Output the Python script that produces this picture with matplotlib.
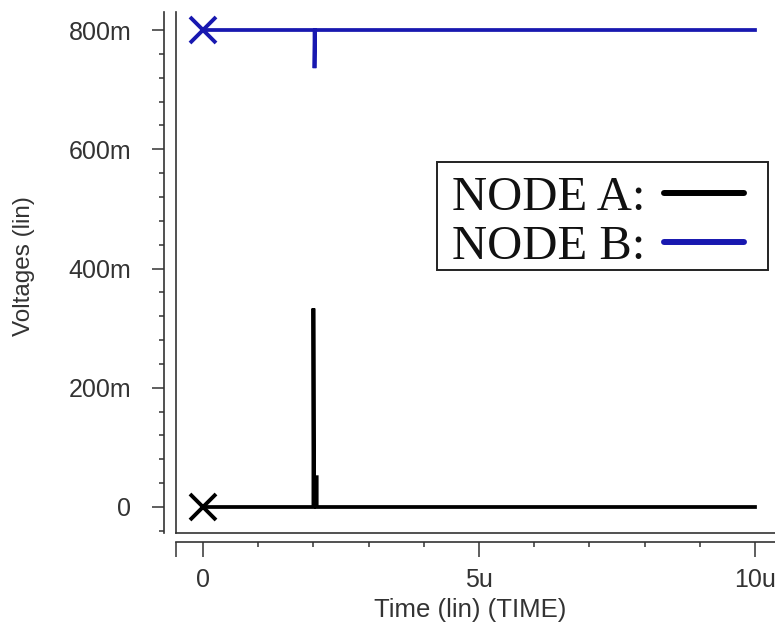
import matplotlib
matplotlib.use("Agg")
import matplotlib.pyplot as plt
from matplotlib.lines import Line2D
from matplotlib.path import Path
from matplotlib.legend_handler import HandlerBase
from matplotlib.ticker import FixedLocator, FuncFormatter

# ---- data (time in microseconds, voltage in volts) ----
time_a = [0.0, 2.0, 2.0, 2.01, 2.06, 2.06, 10.0]
volt_a = [0.0, 0.0, 0.333, 0.05, 0.05, 0.0, 0.0]
time_b = [0.0, 2.02, 2.02, 2.03, 10.0]
volt_b = [0.8, 0.8, 0.736, 0.8, 0.8]
series_labels = ["NODE A:", "NODE B:"]
x_major = [0, 5, 10]
x_major_labels = ["0", "5u", "10u"]
y_major = [0.0, 0.2, 0.4, 0.6, 0.8]
y_major_labels = ["0", "200m", "400m", "600m", "800m"]

col_a = "#000000"
col_b = "#1818b0"
txt_col = "#333333"
frame_col = "#333333"

W, H = 775, 625
fig = plt.figure(figsize=(W / 100, H / 100), dpi=100)
fig.patch.set_facecolor("white")

left_px, right_px, top_px, bottom_px = 176, 775, 12, 533
rect = [left_px / W, 1 - bottom_px / H, (right_px - left_px) / W, (bottom_px - top_px) / H]

xlim = (-27 / 55.2, (775 - 203) / 55.2)
ylim = (-26 / 596.25, 495 / 596.25)

# frame axes (inner border lines)
fr = fig.add_axes(rect, zorder=0)
fr.set_xlim(xlim); fr.set_ylim(ylim)
for s in ["top", "right"]:
    fr.spines[s].set_visible(False)
for s in ["left", "bottom"]:
    fr.spines[s].set_color(frame_col)
    fr.spines[s].set_linewidth(1.2)
fr.set_xticks([]); fr.set_yticks([])

# data axes
ax = fig.add_axes(rect, zorder=1)
ax.patch.set_visible(False)
ax.set_xlim(xlim); ax.set_ylim(ylim)
for s in ["top", "right"]:
    ax.spines[s].set_visible(False)
ax.spines["left"].set_position(("outward", 8.5))
ax.spines["bottom"].set_position(("outward", 6.5))
for s in ["left", "bottom"]:
    ax.spines[s].set_color(frame_col)
    ax.spines[s].set_linewidth(1.2)

ax.plot(time_a, volt_a, color=col_a, lw=2.7, solid_joinstyle="miter", clip_on=False)
ax.plot(time_b, volt_b, color=col_b, lw=2.7, solid_joinstyle="miter", clip_on=False)
ax.plot(time_a[0], volt_a[0], marker="x", ms=19, mew=2.8, color=col_a, clip_on=False)
ax.plot(time_b[0], volt_b[0], marker="x", ms=19, mew=2.8, color=col_b, clip_on=False)

# ticks
ax.xaxis.set_major_locator(FixedLocator([xlim[0]] + x_major))
ax.xaxis.set_major_formatter(FuncFormatter(
    lambda v, p: x_major_labels[x_major.index(round(v))] if abs(v - round(v)) < 1e-6 and round(v) in x_major else ""))
ax.xaxis.set_minor_locator(FixedLocator([1, 2, 3, 4, 6, 7, 8, 9]))
ax.yaxis.set_major_locator(FixedLocator(y_major))
ax.set_yticklabels(y_major_labels)
ax.yaxis.set_minor_locator(FixedLocator([-0.04 + 0.04 * i for i in range(22) if (i - 1) % 5 != 0]))

ax.tick_params(axis="x", which="major", direction="out", length=10.8, width=1.1,
               color=frame_col, pad=8, labelsize=18, labelcolor=txt_col)
ax.tick_params(axis="x", which="minor", direction="out", length=3.6, width=1.1, color=frame_col)
ax.tick_params(axis="y", which="major", direction="out", length=8.6, width=1.1,
               color=frame_col, pad=15, labelsize=18, labelcolor=txt_col)
ax.tick_params(axis="y", which="minor", direction="out", length=3.6, width=1.1, color=frame_col)
for lab in ax.get_xticklabels() + ax.get_yticklabels():
    lab.set_family("Liberation Sans")

ax.set_xlabel("Time (lin) (TIME)", fontsize=18.5, color=txt_col, family="Liberation Sans",
              va="center", ha="center")
ax.xaxis.set_label_coords((470 - left_px) / (right_px - left_px), (bottom_px - 610) / (bottom_px - top_px))
ax.set_ylabel("Voltages (lin)", fontsize=17.5, color=txt_col, family="Liberation Sans",
              va="center", ha="center", rotation_mode="anchor")
ax.yaxis.set_label_coords((24 - left_px) / (right_px - left_px), (bottom_px - 266) / (bottom_px - top_px))


# legend
class ShortLineHandler(HandlerBase):
    def create_artists(self, legend, orig, xdescent, ydescent, width, height, fontsize, trans):
        y = height / 2 - ydescent
        ln = Line2D([-xdescent + 3, -xdescent + width - 9], [y, y],
                    color=orig.get_color(), lw=orig.get_linewidth(),
                    solid_capstyle="round", transform=trans)
        return [ln]


def shifted_box(x0, y0, width, height, mutation_size):
    pl = 0.15 * mutation_size
    pr = 0.08 * mutation_size
    dy = 0.144 * mutation_size
    x0 -= pl
    width += pl + pr
    y0 += dy
    return Path([(x0, y0), (x0 + width, y0), (x0 + width, y0 + height),
                 (x0, y0 + height), (x0, y0)], closed=True)


handles = [Line2D([], [], color=col_a, lw=4.3),
           Line2D([], [], color=col_b, lw=4.3)]
leg = ax.legend(handles, series_labels, loc="upper right",
                bbox_to_anchor=(764 / W, 1 - 169 / H), bbox_transform=fig.transFigure,
                markerfirst=False, prop={"family": "Liberation Serif", "size": 35},
                frameon=True, fancybox=False, edgecolor="#222222", framealpha=1,
                handlelength=2.0, handletextpad=0.29, labelspacing=0.1,
                borderpad=0.15, borderaxespad=0,
                handler_map={Line2D: ShortLineHandler()})
leg.get_frame().set_boxstyle(shifted_box)
leg.get_frame().set_linewidth(1.4)
for t in leg.get_texts():
    t.set_color("#111111")

fig.savefig("out.png", dpi=100, facecolor="white")
